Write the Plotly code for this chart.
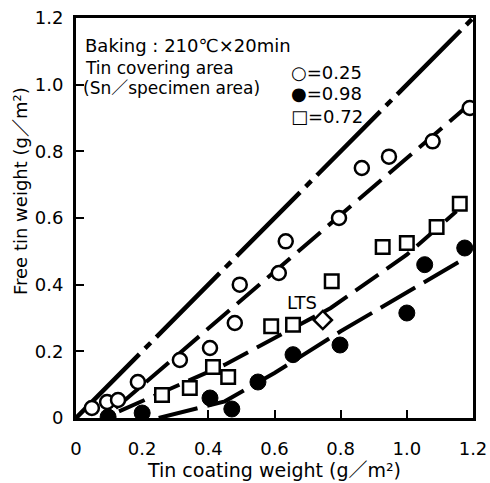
import plotly.graph_objects as go

# ---- data ----
open_x = [0.048, 0.094, 0.127, 0.187, 0.314, 0.405, 0.48, 0.495, 0.613, 0.634, 0.795, 0.864, 0.946, 1.078, 1.19]
open_y = [0.03, 0.048, 0.054, 0.108, 0.174, 0.21, 0.285, 0.40, 0.435, 0.53, 0.60, 0.75, 0.784, 0.83, 0.93]

filled_x = [0.097, 0.20, 0.405, 0.471, 0.55, 0.656, 0.798, 1.0, 1.054, 1.175]
filled_y = [0.003, 0.015, 0.06, 0.027, 0.108, 0.19, 0.219, 0.315, 0.46, 0.51]

square_x = [0.26, 0.344, 0.414, 0.46, 0.59, 0.656, 0.773, 0.927, 1.0, 1.09, 1.16]
square_y = [0.069, 0.09, 0.153, 0.123, 0.275, 0.28, 0.41, 0.513, 0.525, 0.573, 0.643]

lts_x = [0.746]
lts_y = [0.294]

# fitted / reference lines
ref_x = [0.0, 1.2]
ref_y = [0.0, 1.2]
open_fit_x = [0.12, 1.2]
open_fit_y = [0.03, 0.95]
square_fit_x = [0.13, 0.45, 0.77, 1.0, 1.15]
square_fit_y = [0.02, 0.16, 0.33, 0.49, 0.62]
filled_fit_x = [0.25, 0.45, 0.60, 0.80, 1.16]
filled_fit_y = [0.0, 0.05, 0.135, 0.26, 0.47]

tick_vals = [0, 0.2, 0.4, 0.6, 0.8, 1.0, 1.2]
tick_text = ["0", "0.2", "0.4", "0.6", "0.8", "1.0", "1.2"]

FONT = "DejaVu Sans, Noto Sans CJK JP"

fig = go.Figure()

# lines
fig.add_trace(go.Scatter(x=ref_x, y=ref_y, mode="lines", showlegend=False,
                         line=dict(color="black", width=4.5, dash="90px,8px,8px,8px")))
fig.add_trace(go.Scatter(x=open_fit_x, y=open_fit_y, mode="lines", showlegend=False,
                         line=dict(color="black", width=4, dash="30px,10px")))
fig.add_trace(go.Scatter(x=square_fit_x, y=square_fit_y, mode="lines", showlegend=False,
                         line=dict(color="black", width=4, dash="28px,10px")))
fig.add_trace(go.Scatter(x=filled_fit_x, y=filled_fit_y, mode="lines", showlegend=False,
                         line=dict(color="black", width=4, dash="40px,10px")))

# markers
fig.add_trace(go.Scatter(x=open_x, y=open_y, mode="markers", name="0.25", showlegend=False,
                         marker=dict(symbol="circle", size=14, color="white",
                                     line=dict(color="black", width=2.5))))
fig.add_trace(go.Scatter(x=filled_x, y=filled_y, mode="markers", name="0.98", showlegend=False,
                         marker=dict(symbol="circle", size=16, color="black",
                                     line=dict(color="black", width=1))))
fig.add_trace(go.Scatter(x=square_x, y=square_y, mode="markers", name="0.72", showlegend=False,
                         marker=dict(symbol="square", size=13.5, color="white",
                                     line=dict(color="black", width=2.5))))
fig.add_trace(go.Scatter(x=lts_x, y=lts_y, mode="markers", name="LTS", showlegend=False,
                         marker=dict(symbol="diamond", size=14, color="white",
                                     line=dict(color="black", width=2.5))))

# paper coords: x = (px-76)/397, y = (418-py)/400
annots = [
    dict(text="Baking : 210℃×20min", x=0.0176, y=0.9325, size=18),
    dict(text="Tin covering area", x=0.0176, y=0.875, size=17),
    dict(text="(Sn／specimen area)", x=0.012, y=0.825, size=17),
    dict(text="○=0.25", x=0.536, y=0.8625, size=18),
    dict(text="●=0.98", x=0.536, y=0.81, size=18),
    dict(text="□=0.72", x=0.536, y=0.755, size=18),
]
for a in annots:
    fig.add_annotation(xref="paper", yref="paper", xanchor="left", yanchor="middle",
                       showarrow=False, text=a["text"], x=a["x"], y=a["y"],
                       font=dict(family=FONT, size=a["size"], color="black"))

fig.add_annotation(text="LTS", x=0.683, y=0.348, xref="x", yref="y", showarrow=False,
                   font=dict(family=FONT, size=18, color="black"))
fig.add_annotation(text="Free tin weight (g／m²)", x=-0.141, y=0.5675, xref="paper", yref="paper",
                   textangle=-90, showarrow=False, xanchor="center", yanchor="middle",
                   font=dict(family=FONT, size=18, color="black"))

axis_common = dict(range=[0, 1.2], tickvals=tick_vals, ticktext=tick_text,
                   showline=True, linecolor="black", linewidth=3, mirror=True,
                   ticks="inside", ticklen=8, tickwidth=2, tickcolor="black",
                   showgrid=False, zeroline=False, automargin=False,
                   tickfont=dict(family=FONT, size=18, color="black"))

fig.update_layout(
    width=490, height=483,
    margin=dict(l=76, r=17, t=18, b=65, autoexpand=False),
    paper_bgcolor="white", plot_bgcolor="white",
    xaxis=dict(**axis_common, ticklabelstandoff=12,
               title=dict(text="Tin coating weight (g／m²)", standoff=6,
                          font=dict(family=FONT, size=19, color="black"))),
    yaxis=dict(**axis_common, ticklabelstandoff=6),
)

fig.write_html("out.html", config={"displayModeBar": False},
               post_script="document.body.style.margin='0px';document.body.style.overflow='hidden';")
